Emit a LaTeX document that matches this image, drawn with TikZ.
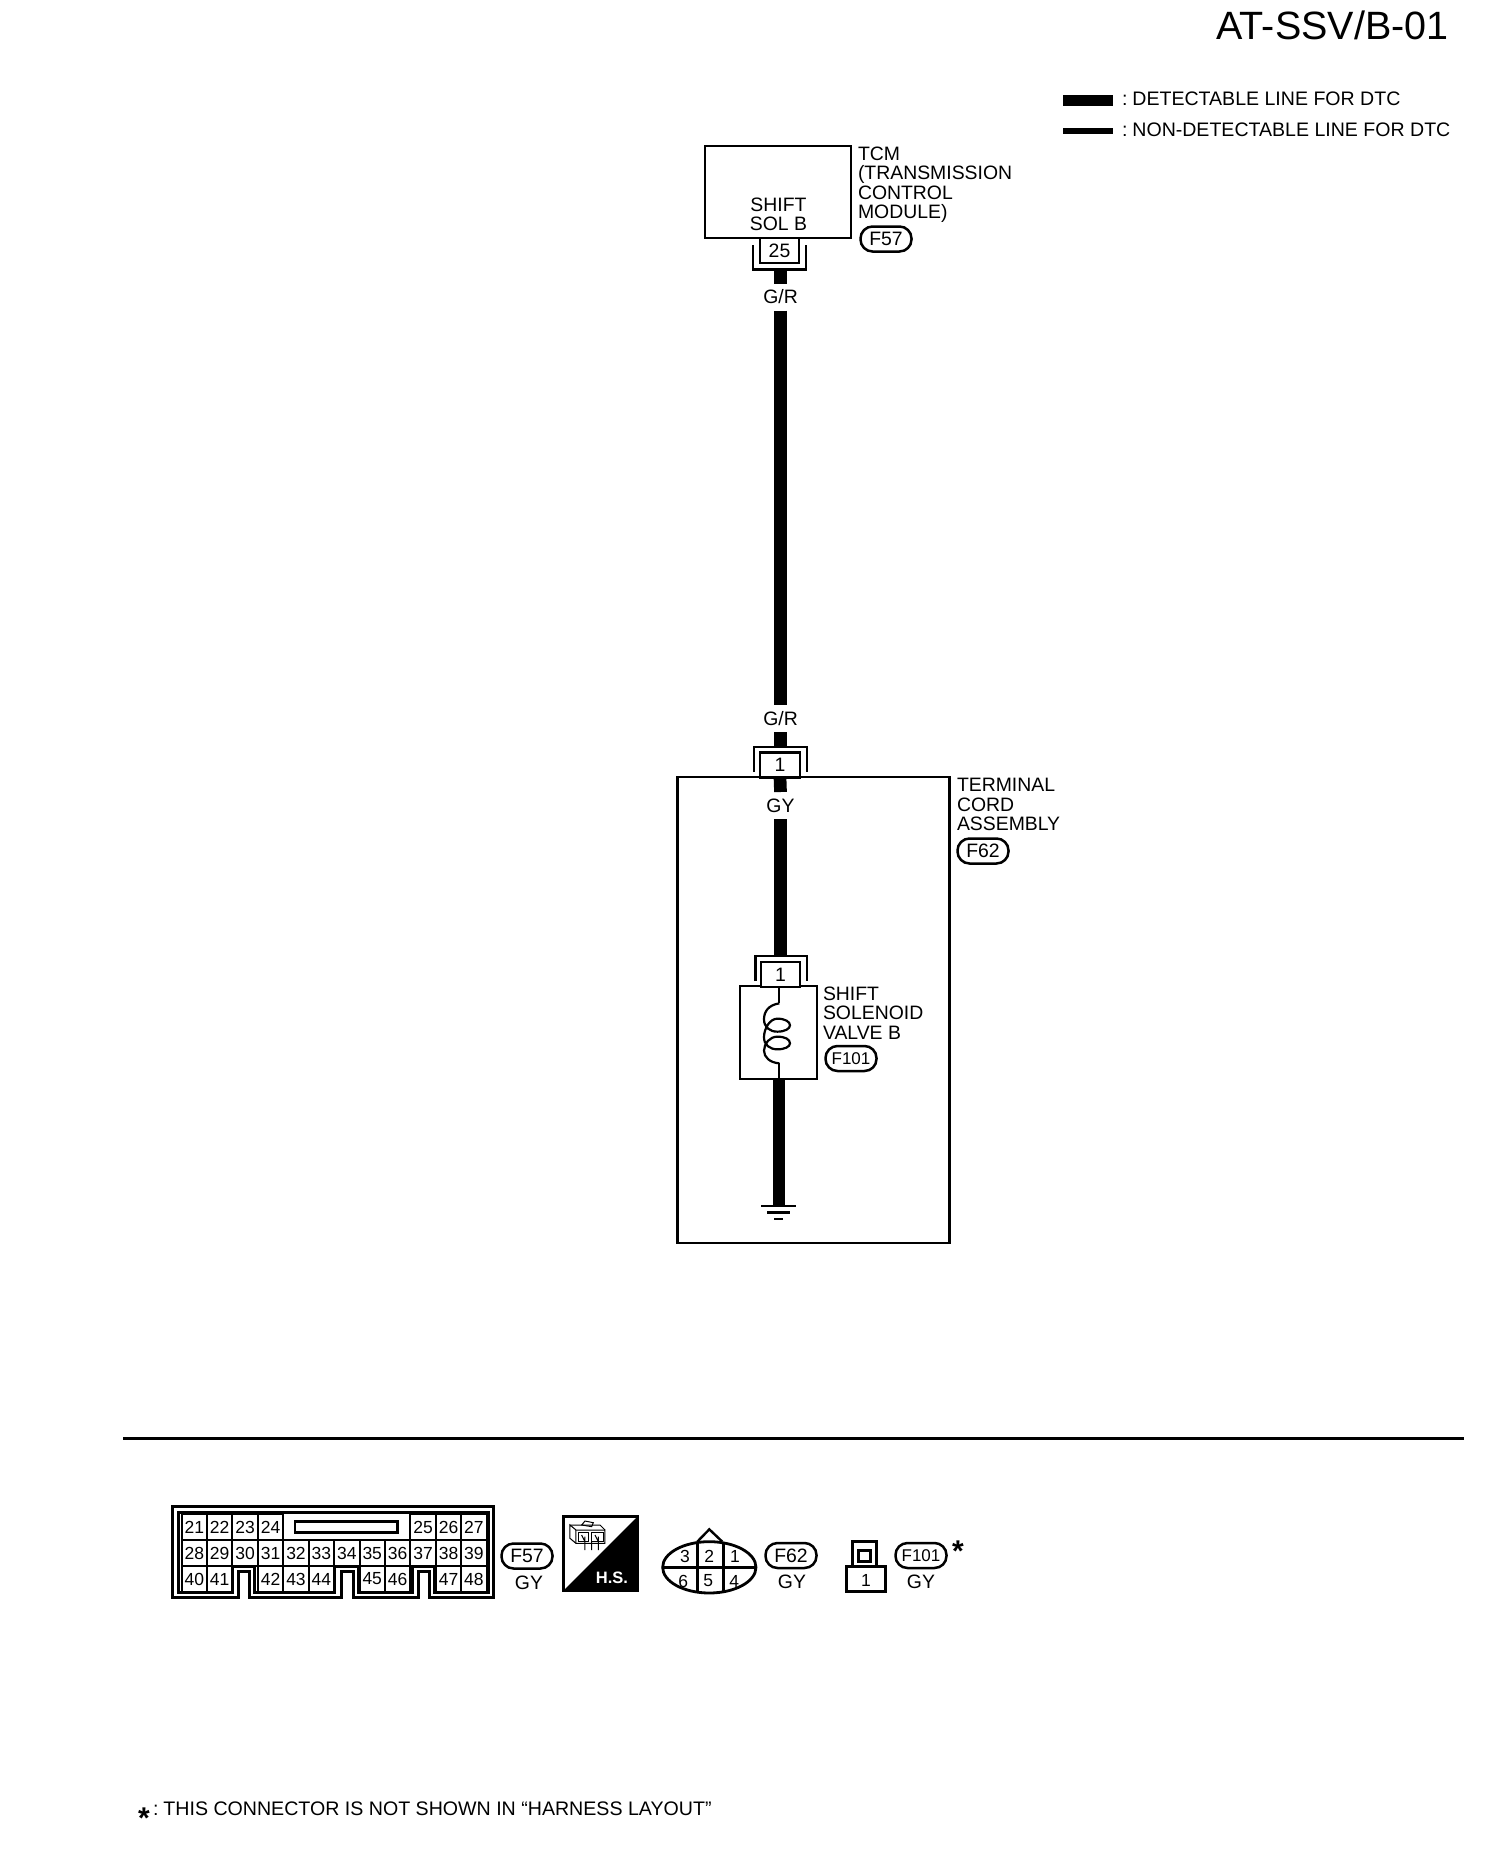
\documentclass[tikz,border=0pt]{standalone}
\usepackage{fontspec}
\setmainfont{Liberation Sans}
\newcommand{\lbl}{\fontsize{19.4}{19.5}\selectfont}
\newcommand{\smallnum}{\fontsize{17.5}{18}\selectfont}
\tikzset{
  box/.style={draw,line width=2.5pt,inner sep=0pt,outer sep=0pt,fill=white},
  conn/.style={draw,line width=2.2pt,inner sep=0pt,outer sep=0pt,fill=white,font=\lbl},
  ushape/.style={line width=2.5pt,line cap=butt,line join=miter},
  wire/.style={line width=12.7pt,line cap=butt},
  thinw/.style={line width=2.2pt},
  txt/.style={inner sep=0pt,outer sep=0pt,font=\lbl,align=left,anchor=west},
  ctxt/.style={inner sep=0pt,outer sep=0pt,font=\lbl,align=center},
  wlabel/.style={inner sep=0pt,outer sep=0pt,font=\lbl,minimum height=27pt,minimum width=30pt},
  pill/.style={draw,line width=2.5pt,rounded corners=12pt,minimum width=51pt,minimum height=25pt,inner sep=0pt,outer sep=0pt,font=\lbl},
  cell/.style={draw,line width=2pt,minimum width=25.4pt,minimum height=26pt,inner sep=0pt,outer sep=0pt,font=\smallnum},
  num/.style={inner sep=0pt,outer sep=0pt,font=\smallnum},
}
\begin{document}
\begin{tikzpicture}[x=1pt,y=-1pt]
\useasboundingbox (0,0) rectangle (1504,1874);
% header and legend
\node[inner sep=0pt,font=\fontsize{39.5}{39.5}\selectfont] (title) at (1332.5,25) {AT-SSV/B-01};
\coordinate (la) at (1063,100.5); \coordinate (lb) at (1113,100.5);
\coordinate (lc) at (1063,131); \coordinate (ld) at (1113,131);
\draw[line width=11pt] (la) -- (lb);
\draw[line width=6pt] (lc) -- (ld);
\node[txt,font=\fontsize{19.55}{19.5}\selectfont] (legA) at (1122,99) {:\hspace{5pt}DETECTABLE LINE FOR DTC};
\node[txt,font=\fontsize{19.55}{19.5}\selectfont] (legB) at (1122,130) {:\hspace{5pt}NON-DETECTABLE LINE FOR DTC};
% TCM
\node[box,minimum width=146pt,minimum height=92pt] (tcm) at (778,192) {};
\node[ctxt] (solb) at (778.5,214.5) {SHIFT\\SOL B};
\node[txt,anchor=north west] (tcmL) at (858,146.5) {TCM\\(TRANSMISSION\\CONTROL\\MODULE)};
\node[pill] (F57a) at (886,239) {F57};
\node[conn,minimum width=39pt,minimum height=25pt] (c25) at (779.5,250.5) {25};
\draw[ushape] (753,245) -- (753,269.5) -- (806,269.5) -- (806,245);
\coordinate (c25b) at (780.5,269);
\node[wlabel] (gr1) at (780.5,297) {G/R};
\node[wlabel] (gr2) at (780.5,718.5) {G/R};
\draw[wire] (c25b) -- (gr1.north);
\draw[wire] (gr1.south) -- (gr2.north);
% terminal cord assembly
\node[box,minimum width=272pt,minimum height=466pt,fill=none] (term) at (813.5,1010) {};
\coordinate (c1t) at (780.5,747);
\draw[wire] (gr2.south) -- (c1t);
\draw[ushape] (754,772) -- (754,747) -- (807,747) -- (807,772);
\node[conn,minimum width=40pt,minimum height=25pt] (c1) at (780,765) {1};
\node[wlabel] (gy) at (780.5,805.5) {GY};
\draw[wire] (c1.south) -- (gy.north);
\node[txt,anchor=north west] (termL) at (957,778.5) {TERMINAL\\CORD\\ASSEMBLY};
\node[pill] (F62a) at (983,851) {F62};
% solenoid
\coordinate (c2t) at (780.5,956);
\draw[wire] (gy.south) -- (c2t);
\draw[ushape] (755.5,981) -- (755.5,956) -- (807,956) -- (807,981);
\node[box,minimum width=77pt,minimum height=93pt] (sol) at (778.5,1032.5) {};
\node[conn,minimum width=39pt,minimum height=25pt] (c2) at (780.5,974.5) {1};
\node[txt,anchor=north west] (solL) at (823,986.5) {SHIFT\\SOLENOID\\VALVE B};
\node[pill] (F101a) at (851,1058.5) {\fontsize{17}{17}\selectfont F101};
\coordinate (coilT) at (779,1003); \coordinate (coilB) at (779,1063);
\draw[thinw] (sol.north -| coilT) -- (coilT);
\draw[thinw] (coilB) -- (sol.south -| coilB);
\begin{scope}[shift={(660,950)},x=0.3333pt,y=-0.3333pt]
\draw[thinw] (358,160) .. controls (325,165) and (312,185) .. (312,208)
  .. controls (312,232) and (330,245) .. (352,245)
  .. controls (375,245) and (390,236) .. (390,226)
  .. controls (390,215) and (375,206) .. (352,206)
  .. controls (330,206) and (312,235) .. (312,262)
  .. controls (312,285) and (330,298) .. (352,298)
  .. controls (375,298) and (390,290) .. (390,280)
  .. controls (390,268) and (375,260) .. (352,260)
  .. controls (330,260) and (312,280) .. (312,302)
  .. controls (312,322) and (330,338) .. (358,340);
\end{scope}
% ground
\coordinate (gnd) at (779,1206);
\draw[wire,line width=12pt] (sol.south -| gnd) -- (gnd);
\draw[line width=1.6pt] (761,1206) -- (796,1206);
\draw[line width=2.6pt] (767,1212.5) -- (790,1212.5);
\draw[line width=1.4pt] (774,1219) -- (783,1219);
% rule
\draw[line width=3.3pt] (123,1438.3) -- (1464,1438.3);
% F57 connector
\begin{scope}[shift={(160,1500)},x=0.3333pt,y=-0.3333pt]
\draw[line width=3pt,line join=miter] (38,20) -- (1000,20) -- (1000,293) -- (810,293) -- (810,213) -- (775,213) -- (775,293) -- (580,293) -- (580,213) -- (545,213) -- (545,293) -- (268,293) -- (268,213) -- (235,213) -- (235,293) -- (38,293) -- cycle;
\draw[line width=3pt,line join=miter] (55,38) -- (985,38) -- (985,278) -- (825,278) -- (825,198) -- (757,198) -- (757,278) -- (595,278) -- (595,198) -- (525,198) -- (525,278) -- (285,278) -- (285,198) -- (218,198) -- (218,278) -- (55,278) -- cycle;
\end{scope}
\foreach \n/\c/\r in {21/0/0,22/1/0,23/2/0,24/3/0,25/9/0,26/10/0,27/11/0,
 28/0/1,29/1/1,30/2/1,31/3/1,32/4/1,33/5/1,34/6/1,35/7/1,36/8/1,37/9/1,38/10/1,39/11/1,
 40/0/2,41/1/2,42/3/2,43/4/2,44/5/2,45/7/2,46/8/2,47/10/2,48/11/2}
 \node[cell] (p\n) at ({194.3+25.42*\c},{1527+26*\r}) {\n};
\draw[line width=2.8pt] (295,1521.7) rectangle (397.3,1532.7);
\node[pill] (F57b) at (527,1556) {F57};
\node[ctxt] (gyA) at (529,1583) {GY};
% H.S.
\node[draw,line width=2.5pt,minimum size=74pt,inner sep=0pt,outer sep=0pt] (hs) at (600.5,1553.5) {};
\fill (hs.north east) -- (hs.south east) -- (hs.south west) -- cycle;
\node[inner sep=0pt,text=white,font=\bfseries\fontsize{16.5}{16.5}\selectfont] (hsT) at (612,1578) {H.S.};
\begin{scope}[shift={(490,1500)},x=0.3333pt,y=-0.3333pt,line width=1pt]
\draw (240,75) -- (258,90) -- (345,90) -- (345,130) -- (258,130) -- (240,115) -- cycle;
\draw (258,90) -- (258,130) (240,75) -- (330,75) -- (345,90);
\draw (275,75) -- (285,63) -- (310,68) -- (305,80) -- cycle;
\draw (265,98) -- (265,125) -- (295,125) -- (295,98) -- cycle;
\draw (305,98) -- (305,125) -- (340,125) -- (340,98) -- cycle;
\draw (285,110) -- (285,150) (305,125) -- (305,150) (325,110) -- (325,150) (275,105) -- (285,125) (315,105) -- (325,125);
\end{scope}
% F62 connector
\begin{scope}[shift={(490,1500)},x=0.3333pt,y=-0.3333pt]
\draw[line width=2.8pt] (658,202) ellipse [x radius=140,y radius=77];
\draw[line width=2.4pt] (518,202) -- (798,202) (622,127) -- (622,278) (700,127) -- (700,278);
\draw[line width=2.4pt] (622,125) -- (658,88) -- (697,125);
\draw[line width=1.2pt] (622,125) -- (697,125);
\node[num] (n3) at (585,170) {3}; \node[num] (n2) at (658,170) {2}; \node[num] (n1) at (735,170) {1};
\node[num] (n6) at (580,243) {6}; \node[num] (n5) at (655,243) {5}; \node[num] (n4) at (733,243) {4};
\end{scope}
\node[pill] (F62b) at (791,1555.5) {F62};
\node[ctxt] (gyB) at (792,1582) {GY};
% F101 connector
\begin{scope}[shift={(490,1500)},x=0.3333pt,y=-0.3333pt]
\draw[line width=2.5pt] (1088,125) rectangle (1160,200);
\draw[line width=3pt] (1105,150) rectangle (1143,183);
\draw[line width=2.5pt] (1070,200) rectangle (1187,275);
\node[num] (n1b) at (1128,240) {1};
\end{scope}
\node[pill] (F101b) at (921,1555.5) {\fontsize{17}{17}\selectfont F101};
\node[ctxt] (gyC) at (921,1582) {GY};
\node[inner sep=0pt,font=\bfseries\fontsize{30}{30}\selectfont] (star) at (958,1551.5) {*};
% footnote
\node[inner sep=0pt,font=\bfseries\fontsize{30}{30}\selectfont] (star2) at (144,1818) {*};
\node[txt,font=\fontsize{19.6}{19.5}\selectfont] (foot) at (153,1809) {:\hspace{5pt}THIS CONNECTOR IS NOT SHOWN IN ``HARNESS LAYOUT''};
\end{tikzpicture}
\end{document}
